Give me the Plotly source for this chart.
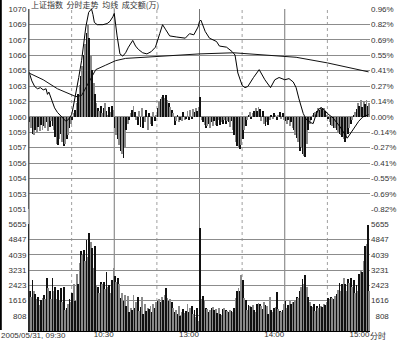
import plotly.graph_objects as go

# ---------------- data ----------------
price_left_labels = ["1070", "1069", "1067", "1066", "1065", "1063", "1062",
                     "1060", "1059", "1057", "1056", "1054", "1053", "1051"]
pct_labels = ["0.96%", "0.82%", "0.69%", "0.55%", "0.41%", "0.27%", "0.14%",
              "0.00%", "-0.14%", "-0.27%", "-0.41%", "-0.55%", "-0.69%", "-0.82%"]
vol_labels = ["5655", "4847", "4039", "3231", "2423", "1616", "808"]
time_ticks = [60, 120, 180, 240]
time_labels = ["10:30", "13:00", "14:00", "15:00"]
date_label = "2005/05/31, 09:30"
unit_label = "分时"
header_text = "上证指数  分时走势  均线  成交额(万)"

# price line vertices: minute since 09:30 (trading minutes), % change
price_min = [0, 1, 2, 4, 6, 8, 10, 12, 13, 14, 16, 18, 20, 22, 24, 26, 28, 30, 31, 33,
             35, 37, 38, 40, 42, 44, 45, 46, 48, 52, 55, 57, 59, 60, 62, 64, 66, 68, 70,
             73, 75, 77, 80, 83, 86, 89, 92, 94, 96, 99, 104, 110, 113, 116, 119, 120,
             121, 124, 127, 132, 134, 139, 143, 145, 147, 150, 152, 154, 158, 162, 166,
             170, 173, 176, 180, 183, 186, 188, 190, 193, 195, 198, 200, 202, 204, 206,
             208, 210, 214, 219, 224, 228, 232, 235, 239]
price_pct = [0.40, 0.36, 0.32, 0.27, 0.25, 0.26, 0.24, 0.25, 0.20, 0.22, 0.14, 0.08, 0.04,
             0.01, -0.02, -0.04, -0.02, 0.02, 0.08, 0.20, 0.35, 0.50, 0.60, 0.80, 0.93,
             0.96, 0.91, 0.84, 0.82, 0.82, 0.83, 0.85, 0.89, 0.92, 0.72, 0.56, 0.54, 0.57,
             0.62, 0.68, 0.63, 0.60, 0.57, 0.56, 0.58, 0.62, 0.74, 0.82, 0.78, 0.72, 0.71,
             0.70, 0.74, 0.73, 0.80, 0.85, 0.86, 0.76, 0.70, 0.67, 0.63, 0.62, 0.58, 0.55,
             0.39, 0.28, 0.26, 0.27, 0.35, 0.42, 0.33, 0.26, 0.33, 0.35, 0.33, 0.34, 0.31,
             0.26, 0.16, 0.03, -0.02, -0.05, -0.06, 0.02, 0.07, 0.08, 0.06, 0.03, -0.01,
             -0.09, -0.19, -0.12, -0.04, 0.00, 0.02]

# average price line vertices
avg_min = [0, 10, 20, 27, 33, 37, 40, 43, 47, 54, 61, 68, 80, 97, 120, 144, 167, 188, 210, 239]
avg_pct = [0.39, 0.33, 0.25, 0.21, 0.18, 0.19, 0.26, 0.34, 0.42, 0.46, 0.50, 0.52, 0.53,
           0.54, 0.56, 0.57, 0.55, 0.53, 0.48, 0.40]

# strength bars around the zero line (% units), one per minute
strength = [
    -0.05, -0.10, -0.15, -0.16, -0.12, -0.14, -0.09, -0.13, -0.07, -0.12,
    -0.08, -0.10, -0.05, -0.13, -0.09, -0.04, -0.08, -0.12, -0.18, -0.24,
    -0.25, -0.20, -0.15, -0.22, -0.26, -0.24, -0.20, -0.16, -0.10, -0.06,
    -0.03, 0.03, 0.06, 0.12, 0.20, 0.28, 0.36, 0.45, 0.55, 0.65,
    0.75, 0.82, 0.70, 0.55, 0.42, 0.30, 0.20, 0.12, 0.08, 0.05,
    0.10, 0.03, 0.08, 0.12, 0.05, 0.02, 0.09, 0.04, 0.10, 0.06,
    -0.10, -0.16, -0.20, -0.25, -0.30, -0.33, -0.37, -0.28, -0.12, -0.06,
    -0.03, 0.03, 0.06, 0.10, 0.04, -0.03, -0.07, 0.05, -0.09, 0.08,
    -0.10, -0.05, 0.06, -0.12, 0.03, -0.06, -0.08, 0.04, -0.04, 0.02,
    0.08, 0.13, 0.16, 0.18, 0.19, 0.17, 0.19, 0.15, 0.12, 0.09,
    0.06, 0.03, -0.07, -0.04, 0.02, -0.05, -0.03, -0.04, 0.04, -0.03,
    -0.02, 0.05, -0.03, 0.06, -0.02, 0.07, 0.04, 0.08, 0.05, 0.09,
    0.18, -0.03, -0.05, -0.07, -0.10, -0.08, -0.06, -0.10, -0.05, -0.08,
    -0.04, -0.07, -0.08, -0.03, -0.07, -0.05, -0.06, -0.03, -0.06, -0.04,
    -0.05, -0.09, -0.04, -0.12, -0.16, -0.22, -0.26, -0.28, -0.29, -0.25,
    -0.20, -0.12, -0.08, -0.03, 0.02, 0.04, -0.02, 0.03, 0.05, 0.08,
    0.05, 0.09, 0.07, -0.04, 0.05, -0.06, -0.08, -0.05, -0.07, -0.03,
    0.02, -0.02, 0.03, 0.02, -0.03, 0.02, 0.04, -0.02, 0.03, -0.03,
    -0.04, -0.06, -0.03, -0.08, -0.05, -0.10, -0.12, -0.16, -0.19, -0.22,
    -0.30, -0.27, -0.33, -0.35, -0.36, -0.24, -0.12, -0.06, -0.03, 0.02,
    0.03, 0.04, 0.05, 0.08, 0.06, 0.09, 0.07, 0.08, 0.05, 0.02,
    -0.02, -0.05, -0.07, -0.08, -0.10, -0.10, -0.12, -0.14, -0.15, -0.16,
    -0.18, -0.20, -0.22, -0.19, -0.15, -0.10, -0.06, -0.03, 0.02, 0.04,
    0.07, 0.12, 0.10, 0.15, 0.09, 0.14, 0.11, 0.15, 0.10, 0.12,
]

# turnover per minute (万)
volume = [
    2100, 1800, 2700, 2100, 1950, 1700, 1800, 1350, 1650, 1750,
    1900, 1700, 2800, 2250, 2100, 1700, 2800, 2100, 2300, 1700,
    2150, 1650, 2250, 1500, 2300, 1100, 1200, 1400, 1700, 1500,
    2000, 2450, 1600, 3000, 2500, 3600, 4200, 4000, 4300, 3700,
    4800, 3900, 5200, 4700, 4400, 3300, 4500, 2400, 2300, 2000,
    2600, 2500, 2600, 2200, 3100, 2300, 2400, 2000, 2700, 3300,
    2900, 2600, 2800, 2500, 1750, 2000, 1600, 1900, 1300, 1850,
    1000, 1200, 1100, 1900, 1200, 1500, 1800, 1050, 1250, 1800,
    900, 1400, 1050, 1200, 1150, 1300, 1000, 1400, 1200, 1500,
    1600, 1700, 1500, 1800, 1650, 1900, 2250, 1750, 1600, 1700,
    1500, 1200, 1000, 1100, 900, 1300, 800, 1000, 1150, 950,
    1050, 1400, 1000, 1200, 1300, 900, 1100, 700, 1200, 500,
    5450, 1700, 1850, 1650, 1200, 1150, 1000, 1100, 1200, 1250,
    1100, 1150, 950, 1200, 900, 850, 1150, 1200, 1100, 1050,
    1000, 1100, 1050, 1000, 1200, 1750, 2100, 2250, 2100, 2950,
    2700, 1750, 1650, 1100, 1350, 1300, 1250, 1350, 1100, 1000,
    1400, 1450, 1400, 1300, 1150, 1500, 1350, 1300, 900, 1800,
    1100, 1000, 1200, 1250, 2050, 1150, 1050, 1000, 1100, 1400,
    1600, 1200, 1350, 1600, 1400, 1500, 1500, 1550, 1800, 1750,
    2100, 2300, 2750, 2450, 2950, 2300, 1800, 1500, 1300, 1250,
    1400, 1050, 1300, 1200, 1400, 1300, 1250, 1400, 1350, 1500,
    1750, 1700, 1800, 1750, 1700, 1850, 1950, 2150, 2550, 2100,
    2500, 2800, 2450, 2100, 2750, 2550, 2800, 2300, 2700, 2000,
    2400, 2100, 3000, 3200, 3100, 3700, 4500, 4600, 5600, 2100,
]

# ---------------- styling / layout ----------------
W, H = 397, 340
ML, MR, MT, MB = 29, 27, 9, 9
PW, PH = W - ML - MR, H - MT - MB
STEP = 0.137  # % per grid row
price_grid = [STEP * (7 - i) for i in range(len(pct_labels))]
vol_ticks = [int(v) for v in vol_labels]
vol_ticks_right = [v.rjust(4, "\u2007") for v in vol_labels]

minutes = list(range(len(volume)))
bar_x = [m + 0.5 for m in minutes]
bar_colors = ["#111111" if m % 2 == 0 else "#8a8a8a" for m in minutes]

LAT = "Liberation Sans, Arial, sans-serif"
CJK = "Noto Sans CJK SC, sans-serif"
tfont = dict(family=LAT, size=8, color="#333333")

fig = go.Figure()
fig.add_trace(go.Bar(x=bar_x, y=strength, xaxis="x2", yaxis="y", width=0.6,
                     marker=dict(color=bar_colors, line=dict(width=0)),
                     hoverinfo="skip", showlegend=False))
fig.add_trace(go.Scatter(x=avg_min, y=avg_pct, xaxis="x2", yaxis="y2", mode="lines",
                         line=dict(color="#111111", width=1), hoverinfo="skip",
                         showlegend=False))
fig.add_trace(go.Scatter(x=price_min, y=price_pct, xaxis="x2", yaxis="y", mode="lines",
                         line=dict(color="#000000", width=1), hoverinfo="skip",
                         showlegend=False))
fig.add_trace(go.Bar(x=bar_x, y=volume, xaxis="x", yaxis="y3", width=0.6,
                     marker=dict(color=bar_colors, line=dict(width=0)),
                     hoverinfo="skip", showlegend=False))
fig.add_trace(go.Scatter(x=[0], y=[0], xaxis="x", yaxis="y4", mode="markers",
                         marker=dict(opacity=0), hoverinfo="skip", showlegend=False))

price_top = 1.0
price_bot = (H - MB - 209.3) / PH
vol_top = (H - MB - 224.3) / PH
prange = [-STEP * 6 - 0.0005, STEP * 7 + 0.0005]

common_y = dict(zeroline=False, ticks="", tickfont=tfont, fixedrange=True)

fig.update_layout(
    width=W, height=H, template="none",
    margin=dict(l=ML, r=MR, t=MT, b=MB, pad=0, autoexpand=False),
    paper_bgcolor="white", plot_bgcolor="rgba(0,0,0,0)",
    bargap=0, showlegend=False,
    xaxis=dict(domain=[0, 1], anchor="y3", range=[0, 240], showgrid=False, zeroline=False,
               showline=True, linecolor="#000000", linewidth=1, ticks="",
               tickmode="array", tickvals=time_ticks, ticktext=time_labels,
               ticklabelposition="outside left", ticklabelstandoff=-5,
               tickfont=tfont, fixedrange=True, automargin=False),
    xaxis2=dict(domain=[0, 1], anchor="y", matches="x", range=[0, 240], showgrid=False,
                zeroline=False, showline=False, showticklabels=False, fixedrange=True),
    yaxis=dict(domain=[price_bot, price_top], anchor="x2", range=prange,
               tickmode="array", tickvals=price_grid, ticktext=price_left_labels,
               showgrid=True, gridcolor="#8c8c8c", gridwidth=1,
               showline=True, linecolor="#666666", linewidth=1, automargin=False,
               **common_y),
    yaxis2=dict(overlaying="y", side="right", anchor="x2", range=prange,
                tickmode="array", tickvals=price_grid, ticktext=pct_labels,
                showgrid=False, showline=False, automargin=False, **common_y),
    yaxis3=dict(domain=[0, vol_top], anchor="x", range=[0, 5656],
                tickmode="array", tickvals=vol_ticks, ticktext=vol_labels,
                showgrid=True, gridcolor="#8c8c8c", gridwidth=1,
                showline=True, linecolor="#000000", linewidth=1, automargin=False,
                **common_y),
    yaxis4=dict(overlaying="y3", side="right", anchor="x", range=[0, 5656],
                tickmode="array", tickvals=vol_ticks, ticktext=vol_ticks_right,
                showgrid=False, showline=False, automargin=False, **common_y),
)

shapes = []
for t in [30, 90, 150, 210]:
    shapes.append(dict(type="line", xref="x", yref="paper", x0=t, x1=t, y0=0, y1=1,
                       line=dict(color="#a0a0a0", width=1, dash="dot"), layer="below"))
for t in [60, 120, 180]:
    shapes.append(dict(type="line", xref="x", yref="paper", x0=t, x1=t, y0=0, y1=1,
                       line=dict(color="#777777", width=1), layer="below"))
shapes.append(dict(type="line", xref="paper", yref="paper", x0=0, x1=0, y0=0, y1=1,
                   line=dict(color="#555555", width=1)))
shapes.append(dict(type="line", xref="paper", yref="paper",
                   x0=-(ML - 0.8) / PW, x1=-(ML - 0.8) / PW,
                   y0=(H - MB - 330) / PH, y1=(H - MB) / PH + MT / PH,
                   line=dict(color="#000000", width=2)))
fig.update_layout(shapes=shapes)

fig.add_annotation(text=header_text, xref="paper", yref="paper", x=0, y=1,
                   xanchor="left", yanchor="bottom", xshift=1, yshift=-2, showarrow=False,
                   font=dict(family=CJK, size=8, color="#333333"), borderpad=0)
fig.add_annotation(text=date_label, xref="paper", yref="paper", x=-ML / PW, y=0,
                   xanchor="left", yanchor="top", showarrow=False, yshift=1,
                   font=tfont, borderpad=0)
fig.add_annotation(text=unit_label, xref="x", yref="paper", x=240, y=0,
                   xanchor="left", yanchor="top", showarrow=False, xshift=-1, yshift=2,
                   font=dict(family=CJK, size=8, color="#333333"), borderpad=0)

fig.write_html("out.html", config={"displayModeBar": False})
